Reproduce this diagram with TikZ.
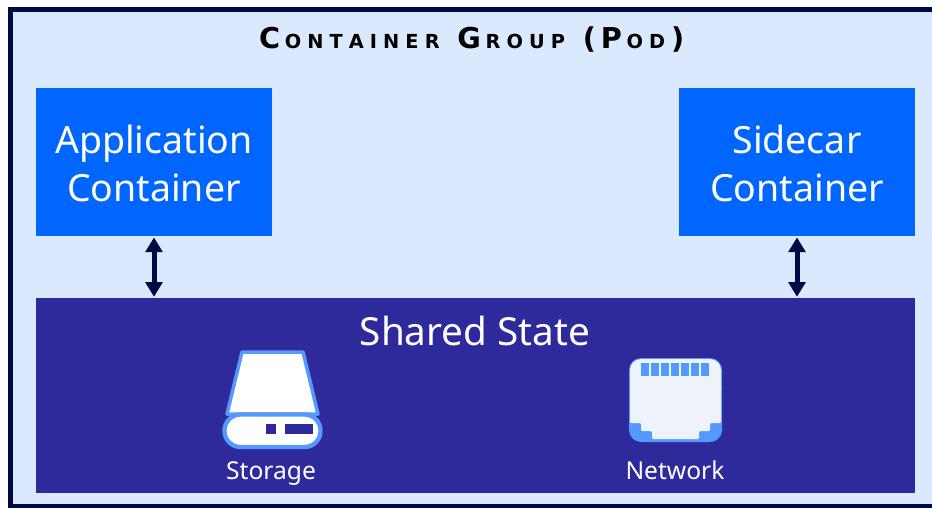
\documentclass[tikz,border=0pt]{standalone}
\usepackage{fontspec}
\setmainfont{Noto Sans}
\newfontfamily\titlefont{DejaVu Sans Bold}
\usetikzlibrary{arrows.meta}
\definecolor{podfill}{HTML}{DBE9FE}
\definecolor{podline}{HTML}{000A45}
\definecolor{boxblue}{HTML}{0066FF}
\definecolor{statefill}{HTML}{2E2A9B}
\definecolor{iconblue}{HTML}{5599FF}
\definecolor{iconpale}{HTML}{EEF3FB}
\newcommand{\titlecap}[1]{{\fontsize{24.5}{27}\selectfont #1}\kern 4pt}
\newcommand{\titlelow}[1]{\foreach \c in {#1}{\fontsize{16.5}{20}\selectfont\c\kern 5.2pt}}
\newcommand{\boxstrut}{\rule{0pt}{26pt}}
\tikzset{
  container/.style={fill=boxblue,text=white,minimum width=7.08cm,minimum height=4.44cm,align=center,inner sep=0pt,font=\fontsize{32}{41}\selectfont},
  iconlabel/.style={text=white,inner sep=0pt,anchor=base,font=\fontsize{21}{26}\selectfont},
  linkarrow/.style={draw=podline,line width=1.5mm,{Triangle[length=4.4mm,width=5mm]}-{Triangle[length=4.4mm,width=5mm]},shorten >=1pt,shorten <=1pt}
}
\begin{document}
\begin{tikzpicture}[x=0.03cm,y=-0.03cm]
\useasboundingbox (0,0) rectangle (932,508);
\fill[white] (0,0) rectangle (932,508);
\fill[podline] (8,7) rectangle (932,508);
\fill[podfill] (13,12) rectangle (932,504);
\node[inner sep=0pt] (title) at (474,40) {\titlefont\titlecap{C}\titlelow{O,N,T,A,I,N,E,R}\kern 10pt\titlecap{G}\titlelow{R,O,U,P}\kern 10pt\titlecap{(}\titlecap{P}\titlelow{O,D}\titlecap{)}};
\node[container] (app) at (154,162) {\boxstrut Application\\Container};
\node[container] (sidecar) at (797,162) {\boxstrut Sidecar\\Container};
\fill[statefill] (36,298) rectangle (915,493);
\coordinate (shared) at (475,298);
\node[text=white,inner sep=0pt,font=\fontsize{33}{41}\selectfont] (statelabel) at (475,331) {Shared State};
\draw[linkarrow] (app.south) -- (app.south |- shared);
\draw[linkarrow] (sidecar.south) -- (sidecar.south |- shared);
% storage
\filldraw[fill=white,draw=iconblue,line width=1.05mm,line join=round] (242,352) -- (303,352) -- (318,414) -- (227,414) -- cycle;
\filldraw[fill=white,draw=iconblue,line width=1.3mm,rounded corners=0.48cm] (224.5,414.5) rectangle (320.5,447);
\fill[statefill] (266,424) rectangle (276,434);\fill[statefill] (285,424) rectangle (313,434);
\node[iconlabel] (storage) at (271,479) {Storage};
% network
\fill[iconblue,rounded corners=0.36cm] (629,358) rectangle (722,442);
\fill[iconpale,rounded corners=0.33cm] (630,359) rectangle (721,400);
\fill[iconpale,rounded corners=1pt] (630,385) -- (721,385) -- (721,423) -- (710,423) -- (710,431) -- (699,431) -- (699,439) -- (652,439) -- (652,431) -- (641,431) -- (641,423) -- (630,423) -- cycle;
\foreach \i in {0,...,6} {\fill[iconblue] (641+\i*10,363) rectangle (649+\i*10,376);}
\node[iconlabel] (network) at (675,479) {Network};
\end{tikzpicture}
\end{document}
